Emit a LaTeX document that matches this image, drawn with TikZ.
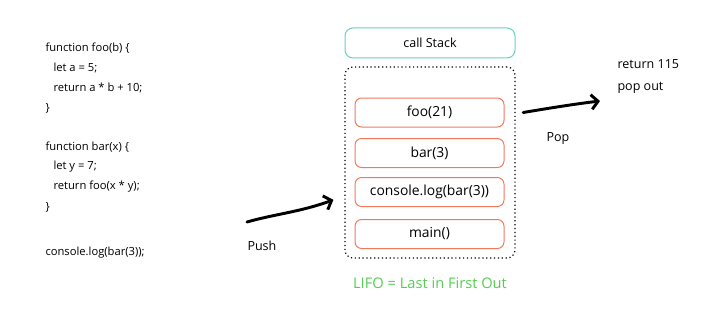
\documentclass[tikz,border=0pt]{standalone}
\usepackage{fontspec}
\setmainfont{Open Sans}
\usetikzlibrary{arrows.meta}

\definecolor{stackteal}{RGB}{104,208,194}
\definecolor{frameorange}{RGB}{238,122,92}
\definecolor{lifogreen}{RGB}{86,204,82}

\tikzset{every picture/.style={line width=0.75pt}}
\tikzset{
  codeline/.style={anchor=west, inner sep=0pt, font=\fontsize{8.4}{10}\selectfont},
  note/.style={anchor=west, inner sep=0pt, font=\fontsize{9.4}{11}\selectfont},
  frame/.style={draw=frameorange, rounded corners=5pt, minimum width=111.75pt, minimum height=21.75pt, font=\fontsize{10.4}{12}\selectfont},
  bigarrow/.style={line width=2.2pt, line cap=round, -{Straight Barb[length=5pt,width=11pt,line width=2.2pt]}}
}

\begin{document}
\begin{tikzpicture}[x=0.75pt,y=0.75pt,yscale=-1,xscale=1]
\useasboundingbox (0,0) rectangle (723,310);

%Code listing
\node [codeline] (l1) at (45,48) {function foo(b) \{};
\node [codeline] (l2) at (53,68) {let a = 5;};
\node [codeline] (l3) at (53,88) {return a * b + 10;};
\node [codeline] (l4) at (45,108) {\}};
\node [codeline] (l5) at (45,147) {function bar(x) \{};
\node [codeline] (l6) at (53,167) {let y = 7;};
\node [codeline] (l7) at (53,187) {return foo(x * y);};
\node [codeline] (l8) at (45,207) {\}};
\node [codeline] (l9) at (45,253) {console.log(bar(3));};

%Stack title
\node [draw=stackteal, rounded corners=6pt, minimum width=127.5pt, minimum height=22.5pt, font=\fontsize{9.4}{11}\selectfont] (title) at (430,43) {call Stack};

%Stack body
\node [draw, dotted, line width=0.9pt, rounded corners=6pt, minimum width=127.5pt, minimum height=143.25pt] (stack) at (430,162.5) {};

%Frames
\node [frame] (foo) at (429.5,112.5) {foo(21)};
\node [frame] (bar) at (429.5,153) {bar(3)};
\node [frame] (con) at (429.5,192) {console.log(bar(3))};
\node [frame] (main) at (429.5,234) {main()};

%Caption
\node [font=\fontsize{11}{13}\selectfont, text=lifogreen] (lifo) at (430,283) {LIFO = Last in First Out};

%Push
\coordinate (pushS) at (247,222);
\draw [bigarrow] (pushS) .. controls (275,214) and (300,212) .. ([xshift=-8.25pt,yshift=28pt]stack.west);
\node [note] (push) at (247,246) {Push};

%Pop
\coordinate (popE) at (600,101);
\draw [bigarrow] ([xshift=14pt]foo.east) .. controls (550,108) and (575,104) .. (popE);
\node [note] (pop) at (546,139) {Pop};

%Result
\node [note] (ret) at (617,64) {return 115};
\node [note] (out) at (617,88) {pop out};

\end{tikzpicture}
\end{document}
